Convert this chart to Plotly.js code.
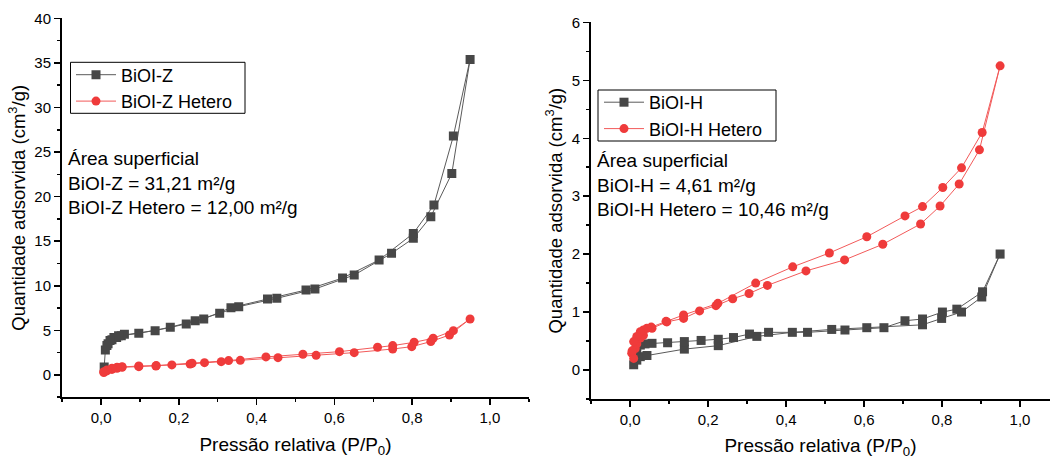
<!DOCTYPE html>
<html>
<head>
<meta charset="utf-8">
<script src="https://cdn.plot.ly/plotly-3.0.1.min.js"></script>
<style>
html,body{margin:0;padding:0;background:#fff;}
#chart{width:1050px;height:459px;}
</style>
</head>
<body>
<div id="chart"></div>
<script>
// ---- data (adsorption branch followed by desorption branch) ----
const zName = "BiOI-Z";
const zX = [0.008, 0.011, 0.018, 0.028, 0.040, 0.052, 0.097, 0.178, 0.242, 0.305, 0.354, 0.452, 0.550, 0.651, 0.747, 0.803, 0.848, 0.902, 0.949, 0.906, 0.856, 0.803, 0.715, 0.621, 0.527, 0.428, 0.334, 0.264, 0.219, 0.139, 0.060, 0.045, 0.033, 0.023, 0.015];
const zY = [0.9, 2.8, 3.5, 3.95, 4.2, 4.4, 4.67, 5.35, 6.09, 6.91, 7.66, 8.6, 9.64, 11.21, 13.64, 15.32, 17.75, 22.6, 35.4, 26.8, 19.06, 15.88, 12.89, 10.87, 9.53, 8.52, 7.55, 6.28, 5.72, 4.97, 4.55, 4.4, 4.2, 3.85, 3.3];

const zhName = "BiOI-Z Hetero";
const zhX = [0.007, 0.015, 0.028, 0.041, 0.054, 0.097, 0.141, 0.182, 0.229, 0.266, 0.309, 0.358, 0.455, 0.553, 0.651, 0.750, 0.799, 0.848, 0.896, 0.949, 0.906, 0.854, 0.805, 0.750, 0.711, 0.613, 0.519, 0.424, 0.328, 0.234, 0.142, 0.097, 0.054, 0.041, 0.028, 0.015, 0.007];
const zhY = [0.26, 0.45, 0.62, 0.75, 0.86, 0.93, 1.0, 1.12, 1.23, 1.38, 1.49, 1.64, 1.94, 2.2, 2.5, 2.91, 3.17, 3.74, 4.48, 6.28, 4.97, 4.11, 3.66, 3.29, 3.1, 2.61, 2.32, 2.02, 1.61, 1.31, 1.05, 1.0, 0.93, 0.86, 0.75, 0.56, 0.37];

const hName = "BiOI-H";
const hX = [0.009, 0.017, 0.026, 0.043, 0.139, 0.226, 0.325, 0.416, 0.517, 0.607, 0.750, 0.799, 0.850, 0.902, 0.949, 0.904, 0.838, 0.801, 0.750, 0.705, 0.651, 0.551, 0.455, 0.355, 0.306, 0.265, 0.226, 0.182, 0.139, 0.096, 0.056, 0.038, 0.026, 0.017];
const hY = [0.09, 0.17, 0.23, 0.25, 0.36, 0.42, 0.58, 0.65, 0.70, 0.73, 0.78, 0.89, 1.0, 1.26, 2.0, 1.35, 1.05, 1.0, 0.88, 0.85, 0.73, 0.69, 0.65, 0.65, 0.62, 0.56, 0.53, 0.51, 0.49, 0.47, 0.46, 0.45, 0.43, 0.37];

const hhName = "BiOI-H Hetero";
const hhX = [0.004, 0.009, 0.013, 0.017, 0.026, 0.034, 0.056, 0.094, 0.137, 0.178, 0.220, 0.263, 0.305, 0.352, 0.451, 0.550, 0.648, 0.745, 0.795, 0.844, 0.896, 0.949, 0.903, 0.850, 0.802, 0.750, 0.705, 0.607, 0.511, 0.417, 0.322, 0.225, 0.137, 0.092, 0.054, 0.043, 0.034, 0.026, 0.017, 0.009, 0.005];
const hhY = [0.29, 0.20, 0.37, 0.45, 0.55, 0.60, 0.72, 0.83, 0.89, 1.02, 1.11, 1.23, 1.32, 1.46, 1.71, 1.90, 2.17, 2.52, 2.83, 3.21, 3.80, 5.25, 4.10, 3.49, 3.15, 2.82, 2.66, 2.30, 2.02, 1.78, 1.50, 1.15, 0.95, 0.84, 0.74, 0.72, 0.69, 0.66, 0.58, 0.49, 0.33];

const leftNote = "Área superficial<br>BiOI-Z = 31,21 m²/g<br>BiOI-Z Hetero = 12,00 m²/g";
const rightNote = "Área superficial<br>BiOI-H = 4,61 m²/g<br>BiOI-H Hetero = 10,46 m²/g";
const xTitle = "Pressão relativa (P/P<sub>0</sub>)";
const yTitle = "Quantidade adsorvida (cm<sup>3</sup>/g)";

// ---- styling ----
const FONT = "Liberation Sans, Arial, sans-serif";
const GREY = "#474747";
const RED = "#ef3b3b";

function trace(x, y, name, color, lineColor, symbol, xa, ya, leg) {
  return {
    type: "scatter", mode: "lines+markers", x: x, y: y, name: name,
    xaxis: xa, yaxis: ya, legend: leg,
    line: {color: lineColor, width: 1},
    marker: {color: color, symbol: symbol, size: 9}
  };
}

const data = [
  trace(zX, zY, zName, GREY, "#5a5a5a", "square", "x", "y", "legend"),
  trace(zhX, zhY, zhName, RED, "#f25a5a", "circle", "x", "y", "legend"),
  trace(hX, hY, hName, GREY, "#5a5a5a", "square", "x2", "y2", "legend2"),
  trace(hhX, hhY, hhName, RED, "#f25a5a", "circle", "x2", "y2", "legend2")
];

function xAxis(domain, range, anchor) {
  return {
    domain: domain, range: range, anchor: anchor,
    showgrid: false, zeroline: false,
    showline: true, linecolor: "#000", linewidth: 2,
    ticks: "outside", ticklen: 6, tickwidth: 1.5, tickcolor: "#000",
    dtick: 0.2, tick0: 0, tickformat: ".1f",
    tickfont: {family: FONT, size: 15, color: "#000"},
    minor: {dtick: 0.1, tick0: 0, ticks: "outside", ticklen: 3, tickwidth: 1.5, tickcolor: "#000", showgrid: false},
    title: {text: xTitle, font: {family: FONT, size: 19, color: "#000"}, standoff: 12},
    automargin: false
  };
}
function yAxis(domain, range, anchor, dtick, minorD) {
  return {
    domain: domain, range: range, anchor: anchor,
    showgrid: false, zeroline: false,
    showline: true, linecolor: "#000", linewidth: 2,
    ticks: "outside", ticklen: 6, tickwidth: 1.5, tickcolor: "#000",
    dtick: dtick, tick0: 0,
    tickfont: {family: FONT, size: 15, color: "#000"},
    minor: {dtick: minorD, tick0: 0, ticks: "outside", ticklen: 3, tickwidth: 1.5, tickcolor: "#000", showgrid: false},
    title: {text: yTitle, font: {family: FONT, size: 18.5, color: "#000"}, standoff: 4},
    automargin: false
  };
}

const legendBase = {
  xanchor: "left", yanchor: "middle",
  borderwidth: 0, bgcolor: "rgba(0,0,0,0)",
  font: {family: FONT, size: 18, color: "#000"},
  itemwidth: 40, tracegroupgap: 0
};

// legend frames (pixel boxes converted to paper fractions)
function frame(x0, y0, x1, y1) {
  return {type: "rect", xref: "paper", yref: "paper",
    x0: x0/1050, x1: x1/1050, y0: 1 - y1/459, y1: 1 - y0/459,
    line: {color: "#000", width: 1}, fillcolor: "rgba(0,0,0,0)", layer: "above"};
}

const layout = {
  width: 1050, height: 459,
  margin: {l: 0, r: 0, t: 0, b: 0},
  paper_bgcolor: "#fff", plot_bgcolor: "#fff",
  separators: ",.",
  font: {family: FONT, color: "#000"},
  xaxis: xAxis([62/1050, 529/1050], [-0.1005, 1.1005], "y"),
  yaxis: yAxis([(459-397.3)/459, (459-18.3)/459], [-2.51, 40.01], "x", 5, 2.5),
  xaxis2: xAxis([591/1050, 1], [-0.1005, 1.077], "y2"),
  yaxis2: yAxis([(459-399)/459, (459-22.3)/459], [-0.501, 6.002], "x2", 1, 0.5),
  legend: Object.assign({x: 71/1050, y: 1 - 88/459}, legendBase),
  legend2: Object.assign({x: 599/1050, y: 1 - 115.5/459}, legendBase),
  shapes: [frame(70.5, 62.3, 245, 113.3), frame(598, 90, 776, 141)],
  annotations: [
    {text: leftNote, xref: "paper", yref: "paper", x: 66/1050, y: 1 - 183/459,
     xanchor: "left", yanchor: "middle", align: "left", showarrow: false,
     font: {family: FONT, size: 19, color: "#000"}},
    {text: rightNote, xref: "paper", yref: "paper", x: 595/1050, y: 1 - 185/459,
     xanchor: "left", yanchor: "middle", align: "left", showarrow: false,
     font: {family: FONT, size: 19, color: "#000"}}
  ]
};

Plotly.newPlot("chart", data, layout, {staticPlot: true, displayModeBar: false});
</script>
</body>
</html>
